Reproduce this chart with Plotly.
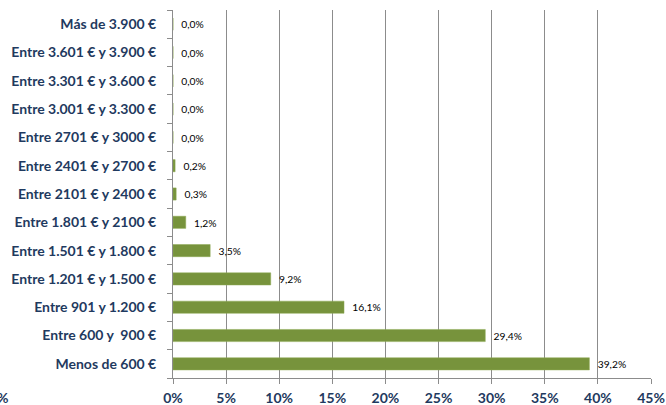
import plotly.graph_objects as go

categories = [
    "Menos de 600 €",
    "Entre 600 y  900 €",
    "Entre 901 y 1.200 €",
    "Entre 1.201 € y 1.500 €",
    "Entre 1.501 € y 1.800 €",
    "Entre 1.801 € y 2100 €",
    "Entre 2101 € y 2400 €",
    "Entre 2401 € y 2700 €",
    "Entre 2701 € y 3000 €",
    "Entre 3.001 € y 3.300 €",
    "Entre 3.301 € y 3.600 €",
    "Entre 3.601 € y 3.900 €",
    "Más de 3.900 €",
]
values = [39.2, 29.4, 16.1, 9.2, 3.5, 1.2, 0.3, 0.2, 0.0, 0.0, 0.0, 0.0, 0.0]
x_ticks = [0, 5, 10, 15, 20, 25, 30, 35, 40, 45]
x_ticklabels = ["0%", "5%", "10%", "15%", "20%", "25%", "30%", "35%", "40%", "45%"]

labels = ["  " + f"{v:.1f}".replace(".", ",") + "%" for v in values]
ypos = list(range(len(categories)))

navy = "#1F3A60"
grid = "#8C8C8C"
FONT = "Lato, Open Sans, sans-serif"

fig = go.Figure(go.Bar(
    x=values, y=ypos, orientation="h",
    marker=dict(color="#77933C", line=dict(color="#8FAA55", width=0.5)),
    width=0.43,
    text=labels, textposition="outside",
    textfont=dict(family=FONT, size=11, color="#000000"),
    cliponaxis=False,
))

fig.update_layout(
    width=666, height=405,
    margin=dict(l=173, r=15, t=10, b=27),
    paper_bgcolor="white", plot_bgcolor="white",
    showlegend=False,
    font=dict(family=FONT),
)
fig.update_xaxes(
    range=[0, 45], tickvals=x_ticks, ticktext=x_ticklabels,
    showgrid=True, gridcolor=grid, gridwidth=1,
    showline=True, linecolor=grid, linewidth=1,
    ticks="outside", ticklen=5, tickcolor=grid,
    tickfont=dict(family=FONT, size=14, color=navy, weight="bold"),
    ticklabelstandoff=2, automargin=False,
    zeroline=False, fixedrange=True,
)
fig.update_yaxes(
    range=[-0.5, len(categories) - 0.5],
    tickvals=ypos, ticktext=categories,
    showgrid=False, showline=True, linecolor=grid, linewidth=1,
    ticks="", ticklabelstandoff=13, automargin=False,
    minor=dict(tick0=0.5, dtick=1, ticks="outside", ticklen=5, tickcolor=grid, showgrid=False),
    tickfont=dict(family=FONT, size=14, color=navy, weight="bold"),
    zeroline=False, fixedrange=True,
)
fig.add_annotation(
    text="%", xref="paper", yref="paper", x=(-5 - 173) / 478, y=-19 / 368,
    xanchor="left", yanchor="middle", showarrow=False,
    font=dict(family=FONT, size=14, color=navy, weight="bold"),
)

fig.write_html(
    "out.html",
    config={"displayModeBar": False, "staticPlot": True},
    post_script="document.body.style.margin='0';document.body.style.overflow='hidden';",
)
